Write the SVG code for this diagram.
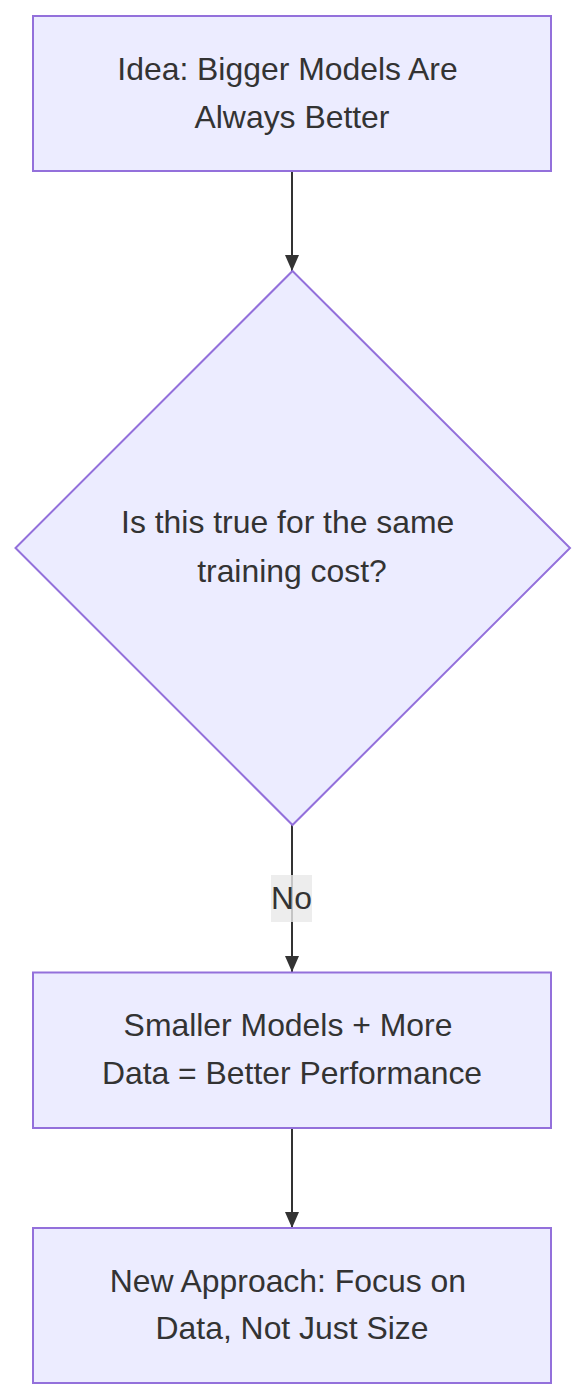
<svg xmlns="http://www.w3.org/2000/svg" width="586" height="1399" viewBox="0 0 586 1399">
<style>
.node{fill:#ECECFF;stroke:#9370DB;stroke-width:2}
.lbl{font-family:"Liberation Sans",Arial,sans-serif;font-size:31.9px;fill:#333333;text-anchor:middle}
.edge{stroke:#333333;stroke-width:2;fill:none}
</style>
<defs>
<marker id="arrow" viewBox="0 0 16 14" refX="16" refY="7" markerWidth="16" markerHeight="14" markerUnits="userSpaceOnUse" orient="auto">
<path d="M0,0 L16,7 L0,14 z" fill="#333333"/>
</marker>
</defs>
<rect width="586" height="1399" fill="#ffffff"/>
<g id="connectors">
<line class="edge" x1="292" y1="171" x2="292" y2="271" marker-end="url(#arrow)"/>
<line class="edge" x1="292" y1="825" x2="292" y2="972" marker-end="url(#arrow)"/>
<line class="edge" x1="292" y1="1128" x2="292" y2="1228" marker-end="url(#arrow)"/>
<g id="edge-label-no">
<rect x="271" y="875" width="41" height="47" fill="#e8e8e8" fill-opacity="0.8"/>
<text class="lbl" x="291.5" y="909">No</text>
</g>
</g>
<g id="node-idea">
<rect class="node" x="33" y="16" width="518" height="155"/>
<text class="lbl" x="287.5" y="80">Idea: Bigger Models Are</text>
<text class="lbl" x="292" y="128">Always Better</text>
</g>
<g id="node-question">
<polygon class="node" points="292.5,271 570,548 292.5,825 15.5,548"/>
<text class="lbl" x="287.7" y="533">Is this true for the same</text>
<text class="lbl" x="292" y="581.5">training cost?</text>
</g>
<g id="node-smaller">
<rect class="node" x="33" y="972.5" width="518" height="155.5"/>
<text class="lbl" x="288" y="1036">Smaller Models + More</text>
<text class="lbl" x="292" y="1083.5">Data = Better Performance</text>
</g>
<g id="node-approach">
<rect class="node" x="33" y="1228" width="518" height="155"/>
<text class="lbl" x="287.8" y="1292">New Approach: Focus on</text>
<text class="lbl" x="292" y="1338.5">Data, Not Just Size</text>
</g>
</svg>
